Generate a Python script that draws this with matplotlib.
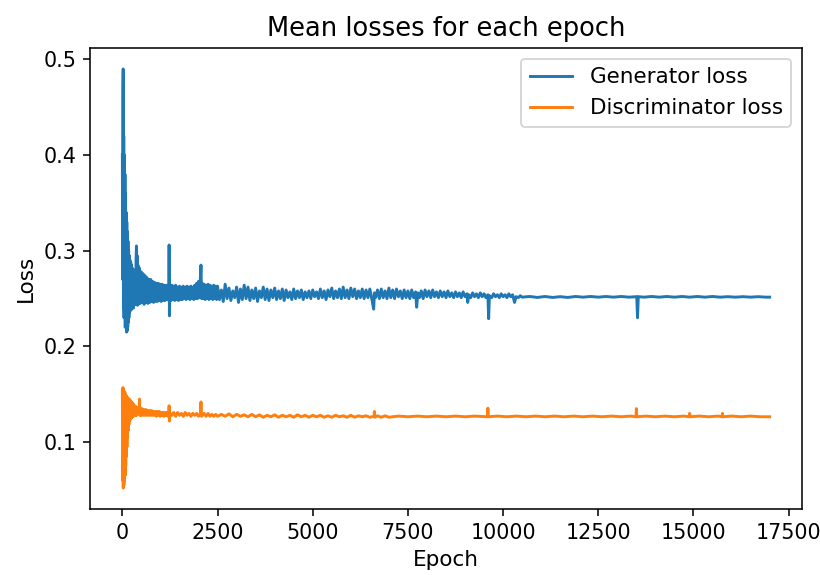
import matplotlib
matplotlib.use("Agg")
import matplotlib.pyplot as plt

plt.rcParams["font.size"] = 11
plt.rcParams["xtick.labelsize"] = 10.6
plt.rcParams["ytick.labelsize"] = 10.6

# generator loss: (epoch, mean loss)
gen_points = [
    (0, 0.40), (8, 0.27), (16, 0.47), (22, 0.49), (28, 0.24), (36, 0.42), (44, 0.23),
    (52, 0.40), (60, 0.25), (68, 0.38), (76, 0.22), (84, 0.36), (92, 0.23), (100, 0.34),
    (108, 0.215), (116, 0.33), (124, 0.216), (132, 0.32), (140, 0.22), (148, 0.31),
    (156, 0.225), (164, 0.30), (172, 0.23), (180, 0.295), (190, 0.235), (200, 0.29),
    (210, 0.24), (220, 0.288), (230, 0.238), (240, 0.285), (250, 0.24), (260, 0.282),
    (270, 0.242), (280, 0.28), (290, 0.24), (300, 0.278), (310, 0.243), (320, 0.276),
    (330, 0.244), (340, 0.28), (350, 0.245), (360, 0.29), (370, 0.305), (378, 0.245),
    (388, 0.295), (398, 0.243), (410, 0.285),
    (420, 0.244), (445, 0.282), (470, 0.245), (495, 0.278), (520, 0.246), (545, 0.276),
    (570, 0.244), (595, 0.274), (620, 0.246), (645, 0.272), (670, 0.245), (695, 0.27),
    (720, 0.246), (745, 0.27), (770, 0.247), (795, 0.268), (820, 0.246), (845, 0.267),
    (870, 0.247), (895, 0.266), (920, 0.247), (945, 0.266), (970, 0.248), (995, 0.265),
    (1020, 0.247), (1045, 0.265), (1070, 0.248), (1095, 0.264), (1120, 0.248),
    (1145, 0.264), (1170, 0.249), (1195, 0.263), (1220, 0.248), (1228, 0.306),
    (1236, 0.232), (1250, 0.263), (1275, 0.248), (1300, 0.264), (1325, 0.249),
    (1350, 0.263), (1375, 0.248), (1400, 0.264), (1425, 0.249), (1450, 0.262),
    (1475, 0.248), (1500, 0.263), (1525, 0.249), (1550, 0.262), (1575, 0.249),
    (1600, 0.263), (1625, 0.25), (1650, 0.262), (1675, 0.249), (1700, 0.263),
    (1725, 0.25), (1750, 0.262), (1775, 0.249), (1800, 0.263), (1825, 0.25),
    (1850, 0.262), (1875, 0.249), (1900, 0.264), (1925, 0.25), (1950, 0.266),
    (1975, 0.25), (2000, 0.268), (2025, 0.251), (2050, 0.272), (2065, 0.285),
    (2080, 0.25), (2100, 0.266), (2125, 0.25), (2150, 0.265), (2175, 0.249),
    (2200, 0.264), (2225, 0.25), (2250, 0.265), (2275, 0.249), (2300, 0.264),
    (2325, 0.25), (2350, 0.263), (2375, 0.249), (2400, 0.264), (2425, 0.25),
    (2450, 0.263), (2475, 0.249),
    (2500, 0.263), (2550, 0.249), (2600, 0.259), (2650, 0.247), (2700, 0.265),
    (2750, 0.250), (2800, 0.261), (2850, 0.248), (2900, 0.258), (2950, 0.251),
    (3000, 0.262), (3050, 0.246), (3100, 0.260), (3150, 0.249), (3200, 0.264),
    (3250, 0.250), (3300, 0.262), (3350, 0.248), (3400, 0.259), (3450, 0.250),
    (3500, 0.261), (3550, 0.247), (3600, 0.258), (3650, 0.251), (3700, 0.262),
    (3750, 0.249), (3800, 0.260), (3850, 0.248), (3900, 0.259), (3950, 0.251),
    (4000, 0.261), (4050, 0.249), (4100, 0.258), (4150, 0.250), (4200, 0.260),
    (4250, 0.248), (4300, 0.259), (4350, 0.251), (4400, 0.257), (4450, 0.249),
    (4500, 0.260), (4550, 0.250), (4600, 0.258), (4650, 0.251), (4700, 0.259),
    (4750, 0.249), (4800, 0.257), (4850, 0.251), (4900, 0.258), (4950, 0.250),
    (5000, 0.259), (5050, 0.252), (5100, 0.257), (5150, 0.250), (5200, 0.260),
    (5250, 0.251), (5300, 0.258), (5350, 0.249), (5400, 0.259), (5450, 0.252),
    (5500, 0.261), (5550, 0.250), (5600, 0.258), (5650, 0.251), (5700, 0.260),
    (5750, 0.250), (5800, 0.262), (5850, 0.251), (5900, 0.259), (5950, 0.250),
    (6000, 0.261), (6050, 0.252), (6100, 0.260), (6150, 0.250), (6200, 0.258),
    (6250, 0.251), (6300, 0.260), (6350, 0.250), (6400, 0.259), (6450, 0.251),
    (6500, 0.260), (6550, 0.250), (6600, 0.239), (6620, 0.256), (6650, 0.251),
    (6700, 0.259), (6750, 0.250), (6800, 0.260), (6850, 0.251), (6900, 0.258),
    (6950, 0.250), (7000, 0.261), (7050, 0.251), (7100, 0.259), (7150, 0.250),
    (7200, 0.260), (7250, 0.252), (7300, 0.258), (7350, 0.250), (7400, 0.259),
    (7450, 0.251), (7500, 0.258), (7550, 0.250), (7600, 0.259), (7650, 0.251),
    (7700, 0.257), (7730, 0.241), (7760, 0.256), (7800, 0.251), (7850, 0.258),
    (7900, 0.250), (7950, 0.259), (8000, 0.252), (8050, 0.258), (8100, 0.251),
    (8150, 0.259), (8200, 0.252), (8250, 0.257), (8300, 0.251), (8350, 0.258),
    (8400, 0.252), (8450, 0.257), (8500, 0.251), (8550, 0.258), (8600, 0.252),
    (8650, 0.256), (8700, 0.251), (8750, 0.257), (8800, 0.252), (8850, 0.256),
    (8900, 0.251), (8950, 0.257), (9000, 0.252), (9050, 0.255), (9070, 0.246),
    (9100, 0.254), (9150, 0.251), (9200, 0.256), (9250, 0.252), (9300, 0.255),
    (9350, 0.251), (9400, 0.256), (9450, 0.252), (9500, 0.255), (9550, 0.251),
    (9600, 0.254), (9620, 0.229), (9640, 0.253), (9700, 0.251), (9750, 0.255),
    (9800, 0.252), (9850, 0.254), (9900, 0.251), (9950, 0.255), (10000, 0.252),
    (10050, 0.254), (10100, 0.251), (10150, 0.255), (10200, 0.252), (10250, 0.254),
    (10300, 0.246), (10340, 0.252), (10400, 0.251), (10450, 0.253),
    (10500, 0.2515), (10700, 0.2522), (10900, 0.2512), (11100, 0.2522), (11300, 0.2512),
    (11500, 0.252), (11700, 0.2512), (11900, 0.2522), (12100, 0.2515), (12300, 0.2522),
    (12500, 0.2515), (12700, 0.2522), (12900, 0.2515), (13100, 0.2522), (13300, 0.2515),
    (13510, 0.252), (13530, 0.23), (13550, 0.252), (13700, 0.2515), (13900, 0.2522),
    (14100, 0.2515), (14300, 0.2522), (14500, 0.2515), (14700, 0.2522), (14900, 0.2515),
    (15100, 0.2522), (15300, 0.2515), (15500, 0.2522), (15700, 0.2515), (15900, 0.252),
    (16100, 0.2515), (16300, 0.252), (16500, 0.2515), (16700, 0.252), (16900, 0.2515),
    (17000, 0.2515),
]

# discriminator loss: (epoch, mean loss)
disc_points = [
    (0, 0.155), (8, 0.06), (16, 0.157), (24, 0.052), (32, 0.155), (40, 0.055),
    (48, 0.153), (56, 0.06), (64, 0.152), (72, 0.065), (80, 0.15), (88, 0.075),
    (96, 0.149), (104, 0.085), (112, 0.148), (120, 0.095), (128, 0.147), (136, 0.105),
    (144, 0.146), (152, 0.112), (160, 0.145), (170, 0.118), (180, 0.145), (190, 0.122),
    (200, 0.144), (210, 0.124), (220, 0.143), (230, 0.125), (240, 0.142), (250, 0.126),
    (260, 0.141), (270, 0.127), (280, 0.14), (290, 0.127), (300, 0.139), (310, 0.128),
    (320, 0.138), (330, 0.128), (340, 0.137), (350, 0.128), (360, 0.137), (370, 0.128),
    (380, 0.136), (390, 0.129), (400, 0.136), (440, 0.13), (450, 0.145), (460, 0.128),
    (470, 0.135), (495, 0.128), (520, 0.135), (545, 0.128), (570, 0.134), (595, 0.128),
    (620, 0.134), (645, 0.128), (670, 0.133), (695, 0.128), (720, 0.133), (745, 0.128),
    (770, 0.133), (795, 0.128), (820, 0.132), (845, 0.128), (870, 0.132), (895, 0.127),
    (920, 0.132), (945, 0.128), (970, 0.132), (995, 0.127), (1020, 0.131), (1045, 0.128),
    (1070, 0.131), (1095, 0.127), (1120, 0.131), (1145, 0.128), (1170, 0.131),
    (1195, 0.127), (1220, 0.13), (1228, 0.138), (1236, 0.122), (1250, 0.13),
    (1300, 0.128), (1350, 0.131), (1400, 0.127), (1450, 0.131), (1500, 0.128),
    (1550, 0.13), (1600, 0.127), (1650, 0.131), (1700, 0.128), (1750, 0.13),
    (1800, 0.127), (1850, 0.13), (1900, 0.128), (1950, 0.13), (2000, 0.127),
    (2050, 0.13), (2065, 0.142), (2080, 0.127), (2150, 0.13), (2200, 0.127),
    (2250, 0.13), (2300, 0.127), (2350, 0.129), (2400, 0.127), (2450, 0.129),
    (2500, 0.127), (2600, 0.129), (2700, 0.127), (2800, 0.1295), (2900, 0.1265),
    (3000, 0.129), (3100, 0.127), (3200, 0.1285), (3300, 0.1265), (3400, 0.129),
    (3500, 0.1265), (3600, 0.1285), (3700, 0.126), (3800, 0.128), (3900, 0.1265),
    (4000, 0.1285), (4100, 0.126), (4200, 0.128), (4300, 0.1265), (4400, 0.128),
    (4500, 0.126), (4600, 0.1285), (4700, 0.1265), (4800, 0.128), (4900, 0.126),
    (5000, 0.128), (5100, 0.1265), (5200, 0.128), (5300, 0.126), (5400, 0.1275),
    (5500, 0.126), (5600, 0.128), (5700, 0.1265), (5800, 0.1275), (5900, 0.126),
    (6000, 0.128), (6100, 0.126), (6200, 0.1275), (6300, 0.1265), (6400, 0.1275),
    (6500, 0.126), (6610, 0.127), (6620, 0.132), (6630, 0.126), (6700, 0.1275),
    (6800, 0.126), (6900, 0.1275), (7000, 0.126),
    (7250, 0.1272), (7500, 0.1265), (7750, 0.1272), (8000, 0.1265), (8250, 0.1272),
    (8500, 0.1265), (8750, 0.1272), (9000, 0.1265), (9250, 0.1272), (9590, 0.1265),
    (9600, 0.1355), (9610, 0.1265), (9850, 0.1272), (10100, 0.1265), (10350, 0.1272),
    (10600, 0.1265), (10850, 0.1272), (11100, 0.1265), (11350, 0.1272), (11600, 0.1265),
    (11850, 0.1272), (12100, 0.1265), (12350, 0.1272), (12600, 0.1265), (12850, 0.1272),
    (13100, 0.1265), (13350, 0.1272), (13490, 0.1265), (13500, 0.135), (13510, 0.1265),
    (13750, 0.1272), (14000, 0.1265), (14250, 0.1272), (14500, 0.1265), (14750, 0.1272),
    (14890, 0.1265), (14900, 0.13), (14910, 0.1265), (15150, 0.1272), (15400, 0.1265),
    (15650, 0.1272), (15750, 0.1265), (15760, 0.13), (15770, 0.1265), (16000, 0.1272),
    (16250, 0.1265), (16500, 0.1272), (16750, 0.1265), (17000, 0.1265),
]

gen_epochs = [p[0] for p in gen_points]
gen_loss = [p[1] for p in gen_points]
disc_epochs = [p[0] for p in disc_points]
disc_loss = [p[1] for p in disc_points]

dpi = 140.4
fig = plt.figure(figsize=(821 / dpi, 575 / dpi), dpi=dpi)
ax = fig.add_axes([90 / 821, 66 / 575, 712 / 821, 461 / 575])

ax.plot(gen_epochs, gen_loss, label="Generator loss")
ax.plot(disc_epochs, disc_loss, label="Discriminator loss")

ax.set_title("Mean losses for each epoch")
ax.set_xlabel("Epoch")
ax.set_ylabel("Loss")
ax.legend(loc="upper right")

fig.savefig("out.png", dpi=dpi)
